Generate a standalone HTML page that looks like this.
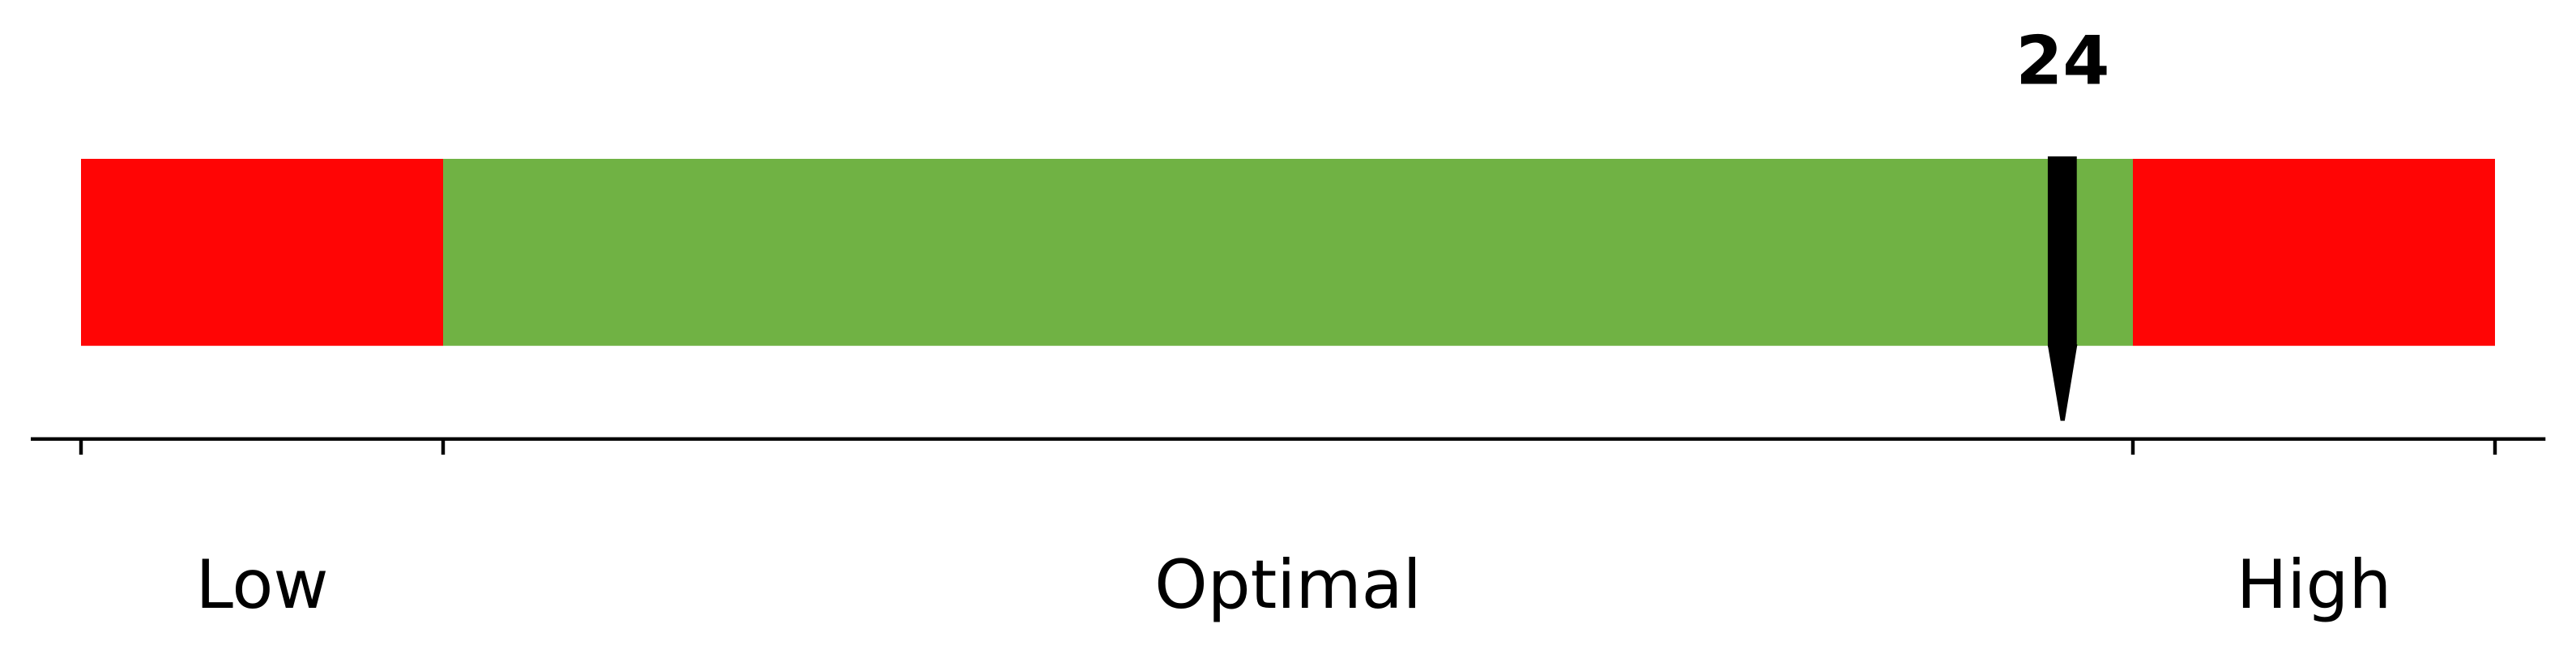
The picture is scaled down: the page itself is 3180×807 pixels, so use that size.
<!DOCTYPE html>
<html lang="en">
<head>
<meta charset="utf-8">
<title>Range gauge</title>
<style>
  html, body { margin: 0; padding: 0; background: #fff; }
  svg { display: block; }
  text { font-family: "DejaVu Sans", "Liberation Sans", sans-serif; font-size: 83.33px; fill: #000; text-anchor: middle; }
  #value-label { font-weight: bold; }
  .zone-low, .zone-high { fill: #ff0505; }
  .zone-optimal { fill: #70b244; }
</style>
</head>
<body>
<svg id="chart" xmlns="http://www.w3.org/2000/svg" width="3180" height="807" viewBox="0 0 3180 807">
  <rect x="0" y="0" width="3180" height="807" fill="#ffffff"></rect>
  <g id="zones"></g>
  <line id="axis-line" stroke="#000" stroke-width="4.44"></line>
  <g id="ticks"></g>
  <polygon id="marker" fill="#000"></polygon>
  <text id="value-label" y="103.3">24</text>
  <text id="label-low" y="750">Low</text>
  <text id="label-optimal" y="750">Optimal</text>
  <text id="label-high" y="750">High</text>
</svg>
<script>
const zoneNames = ['low', 'optimal', 'high'];
const zoneEdges = [8, 11, 25, 28];
const markerValues = [24.415];

const SVG_NS = 'http://www.w3.org/2000/svg';
const plotLeft = 100;
const plotRight = 3080;
const axisLeft = 38;
const axisRight = 3142.3;
const barTop = 196;
const barBottom = 426.7;
const axisY = 541.7;
const tickBottom = 561;

function xScale(v) {
  const lo = zoneEdges[0];
  const hi = zoneEdges[zoneEdges.length - 1];
  return plotLeft + (v - lo) / (hi - lo) * (plotRight - plotLeft);
}

const zonesGroup = document.getElementById('zones');
zoneNames.forEach(function (name, i) {
  const x0 = xScale(zoneEdges[i]);
  const x1 = xScale(zoneEdges[i + 1]);
  const r = document.createElementNS(SVG_NS, 'rect');
  
  
  r.setAttribute('class', 'zone-' + name);
  r.setAttribute('x', x0);
  r.setAttribute('y', barTop);
  r.setAttribute('width', x1 - x0);
  r.setAttribute('height', barBottom - barTop);
  zonesGroup.appendChild(r);
  document.getElementById('label-' + name).setAttribute('x', (x0 + x1) / 2);
});

const axisLine = document.getElementById('axis-line');
axisLine.setAttribute('x1', axisLeft);
axisLine.setAttribute('x2', axisRight);
axisLine.setAttribute('y1', axisY);
axisLine.setAttribute('y2', axisY);

const ticksGroup = document.getElementById('ticks');
zoneEdges.forEach(function (edge) {
  const t = document.createElementNS(SVG_NS, 'line');
  
  
  t.setAttribute('x1', xScale(edge));
  t.setAttribute('x2', xScale(edge));
  t.setAttribute('y1', axisY);
  t.setAttribute('y2', tickBottom);
  t.setAttribute('stroke', '#000');
  t.setAttribute('stroke-width', '4.44');
  ticksGroup.appendChild(t);
});

const cx = xScale(markerValues[0]);
const marker = document.getElementById('marker');
marker.setAttribute('points', [
  [cx - 17.9, 193],
  [cx + 17.9, 193],
  [cx + 17.9, 425],
  [cx + 18.6, 425],
  [cx + 3, 519.3],
  [cx - 2.2, 519.3],
  [cx - 17.4, 429],
  [cx - 17.9, 427]
].map(function (p) { return p.join(','); }).join(' '));

const valueLabel = document.getElementById('value-label');
valueLabel.setAttribute('x', cx + 0.5);
valueLabel.textContent = String(Math.round(markerValues[0]));
</script>
</body>
</html>
